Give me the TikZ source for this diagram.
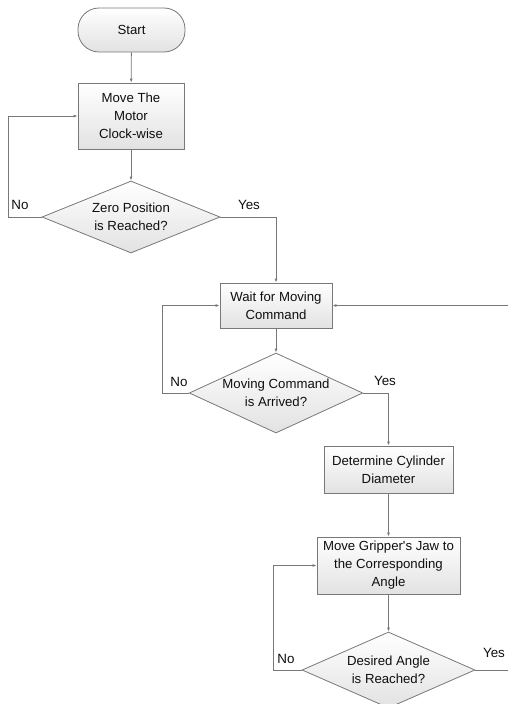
\documentclass[tikz,border=0pt]{standalone}
\usepackage{fontspec}
\setmainfont{Liberation Sans}
\usetikzlibrary{shapes.geometric,arrows.meta}
\definecolor{linec}{RGB}{120,120,120}
\definecolor{fillb}{RGB}{226,226,226}
\definecolor{txt}{RGB}{15,15,15}
\tikzset{
  base/.style={draw=linec, line width=0.8pt, top color=white, bottom color=fillb, text=txt,
    font=\fontsize{13.2}{18}\selectfont, align=center, inner sep=0pt},
  procbox/.style={base, rectangle},
  termbox/.style={base, rectangle, rounded corners=21pt},
  decbox/.style={base, diamond, aspect=2.4},
  conn/.style={draw=linec, line width=0.8pt, -{Latex[length=4pt,width=3pt]}},
  plain/.style={draw=linec, line width=0.8pt},
  lbl/.style={text=txt, font=\fontsize{13.4}{16}\selectfont, inner sep=0pt}
}
\begin{document}
\begin{tikzpicture}[x=1pt,y=-1pt]
\useasboundingbox (0,0) rectangle (508,704);
\node[termbox, minimum width=107pt, minimum height=44pt] (start) at (131.5,30) {Start};
\node[procbox, minimum width=106pt, minimum height=66pt] (b1) at (131,116) {Move The\\Motor\\Clock-wise};
\node[decbox, minimum width=178pt, minimum height=72pt] (d1) at (131,217) {Zero Position\\is Reached?};
\node[procbox, minimum width=112pt, minimum height=45pt] (b2) at (276,305.5) {Wait for Moving\\Command};
\node[decbox, minimum width=168pt, minimum height=80pt] (d2) at (276,393) {Moving Command\\is Arrived?};
\node[procbox, minimum width=129pt, minimum height=47pt] (b3) at (388.5,469.5) {Determine Cylinder\\Diameter};
\node[procbox, minimum width=143pt, minimum height=57pt] (b4) at (388.5,565.5) {Move Gripper\textquotesingle s Jaw to\\the Corresponding\\Angle};
\node[decbox, minimum width=173pt, minimum height=76pt] (d3) at (388.5,670) {Desired Angle\\is Reached?};

\coordinate (l1) at (8,217);
\coordinate (l2) at (162,393);
\coordinate (l3) at (273,670);
\coordinate (r1) at (508,305.5);
\coordinate (r3) at (508,670);

\draw[conn] (start) -- (b1);
\draw[conn] (b1) -- (d1);
\draw[conn] (d1.west) -- (l1) |- (b1.west);
\draw[conn] (d1.east) -| (b2.north);
\draw[conn] (r1) -- (b2.east);
\draw[conn] (b2) -- (d2);
\draw[conn] (d2.west) -- (l2) |- (b2.west);
\draw[conn] (d2.east) -| (b3.north);
\draw[conn] (b3) -- (b4);
\draw[conn] (b4) -- (d3);
\draw[conn] (d3.west) -- (l3) |- (b4.west);
\draw[plain] (d3.east) -- (r3);

\node[lbl] (n1) at (20,205) {No};
\node[lbl] (y1) at (249,205) {Yes};
\node[lbl] (n2) at (179,382) {No};
\node[lbl] (y2) at (385,381) {Yes};
\node[lbl] (n3) at (286,659) {No};
\node[lbl] (y3) at (494,653) {Yes};
\end{tikzpicture}
\end{document}
